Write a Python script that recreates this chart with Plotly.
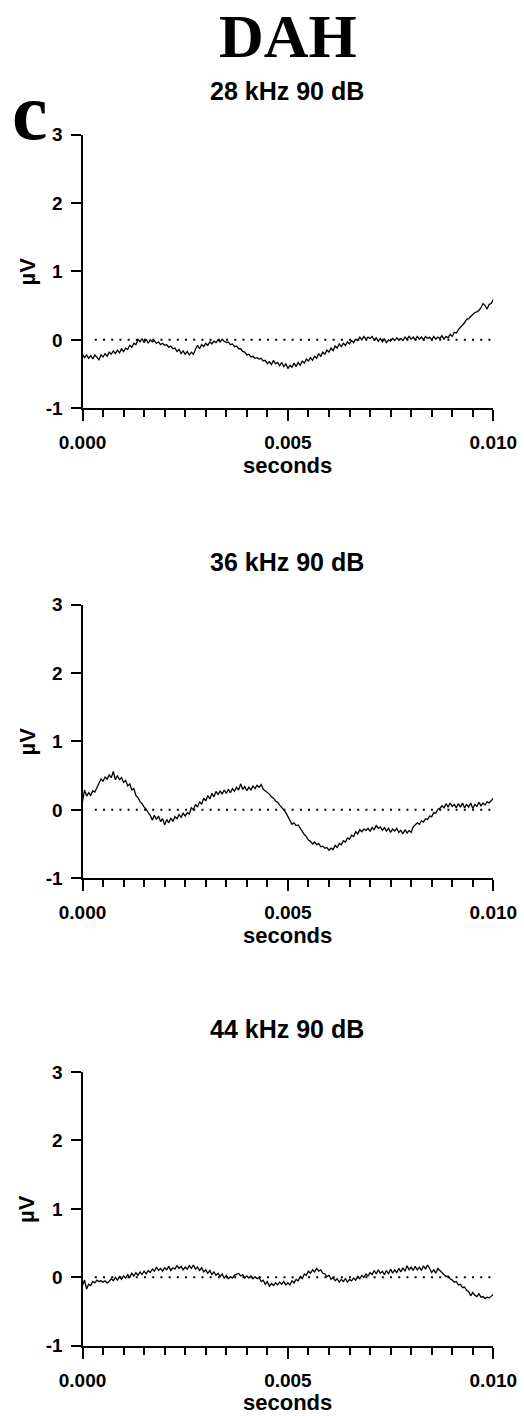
import plotly.graph_objects as go

# ---------------- data ----------------
sample_interval_s = 0.00005  # 0.05 ms between read-off samples, 0 .. 0.010 s

trace_28khz = [
    -0.21, -0.26, -0.22, -0.27, -0.23, -0.28, -0.22, -0.25, -0.29, -0.22,
    -0.25, -0.20, -0.24, -0.18, -0.21, -0.16, -0.20, -0.15, -0.19, -0.13,
    -0.17, -0.12, -0.14, -0.08, -0.11, -0.05, -0.07, 0.01, -0.03, 0.02,
    -0.04, 0.01, -0.05, 0.00, -0.03, -0.01, -0.05, -0.03, -0.07, -0.05,
    -0.08, -0.07, -0.11, -0.09, -0.13, -0.12, -0.17, -0.14, -0.20, -0.16,
    -0.21, -0.17, -0.22, -0.18, -0.21, -0.14, -0.08, -0.13, -0.07, -0.10,
    -0.05, -0.08, -0.03, -0.06, -0.02, -0.04, 0.00, -0.03, 0.01, -0.02,
    -0.04, -0.03, -0.07, -0.06, -0.10, -0.09, -0.13, -0.13, -0.17, -0.18,
    -0.22, -0.21, -0.25, -0.24, -0.27, -0.26, -0.28, -0.27, -0.31, -0.30,
    -0.35, -0.32, -0.36, -0.30, -0.35, -0.33, -0.38, -0.33, -0.39, -0.35,
    -0.42, -0.37, -0.40, -0.34, -0.39, -0.33, -0.37, -0.31, -0.34, -0.28,
    -0.31, -0.26, -0.30, -0.24, -0.27, -0.20, -0.24, -0.18, -0.21, -0.15,
    -0.18, -0.12, -0.16, -0.09, -0.12, -0.06, -0.10, -0.05, -0.08, -0.03,
    -0.06, -0.01, -0.04, 0.01, -0.01, 0.04, 0.00, 0.05, 0.01, 0.04,
    0.02, 0.05, 0.00, 0.03, -0.02, 0.02, -0.03, 0.01, -0.04, 0.00,
    -0.02, 0.02, -0.01, 0.03, 0.00, 0.02, -0.01, 0.04, 0.01, 0.05,
    0.01, 0.04, 0.00, 0.05, 0.01, 0.04, 0.00, 0.05, 0.02, 0.04,
    0.00, 0.05, 0.01, 0.04, 0.02, 0.06, 0.01, 0.05, 0.03, 0.08,
    0.05, 0.11, 0.10, 0.15, 0.18, 0.22, 0.25, 0.30, 0.31, 0.34,
    0.37, 0.40, 0.41, 0.43, 0.47, 0.53, 0.50, 0.45, 0.52, 0.53,
    0.59,
]

trace_36khz = [
    0.12, 0.29, 0.20, 0.25, 0.21, 0.28, 0.26, 0.33, 0.38, 0.45,
    0.42, 0.48, 0.45, 0.51, 0.47, 0.56, 0.44, 0.50, 0.44, 0.47,
    0.40, 0.43, 0.35, 0.38, 0.29, 0.31, 0.21, 0.18, 0.12, 0.09,
    0.04, 0.01, -0.04, -0.08, -0.15, -0.08, -0.14, -0.09, -0.17, -0.13,
    -0.22, -0.14, -0.19, -0.12, -0.17, -0.10, -0.13, -0.07, -0.11, -0.05,
    -0.09, -0.04, -0.06, 0.03, 0.00, 0.08, 0.04, 0.12, 0.08, 0.17,
    0.13, 0.21, 0.16, 0.24, 0.19, 0.27, 0.22, 0.28, 0.23, 0.29,
    0.24, 0.30, 0.25, 0.31, 0.27, 0.33, 0.29, 0.38, 0.30, 0.34,
    0.28, 0.33, 0.29, 0.35, 0.31, 0.36, 0.33, 0.37, 0.30, 0.28,
    0.25, 0.23, 0.19, 0.17, 0.13, 0.11, 0.07, 0.04, 0.00, -0.04,
    -0.10, -0.17, -0.21, -0.19, -0.23, -0.22, -0.27, -0.31, -0.36, -0.39,
    -0.44, -0.46, -0.50, -0.47, -0.51, -0.49, -0.54, -0.53, -0.56, -0.55,
    -0.59, -0.56, -0.58, -0.52, -0.55, -0.49, -0.51, -0.45, -0.47, -0.41,
    -0.43, -0.37, -0.39, -0.32, -0.35, -0.29, -0.32, -0.28, -0.30, -0.27,
    -0.31, -0.26, -0.29, -0.23, -0.27, -0.25, -0.30, -0.26, -0.31, -0.27,
    -0.33, -0.28, -0.31, -0.27, -0.33, -0.30, -0.35, -0.29, -0.34, -0.30,
    -0.33, -0.25, -0.22, -0.19, -0.21, -0.16, -0.18, -0.13, -0.14, -0.09,
    -0.10, -0.04, -0.05, 0.01, 0.02, 0.06, 0.03, 0.09, 0.04, 0.10,
    0.05, 0.08, 0.03, 0.09, 0.04, 0.10, 0.03, 0.08, 0.04, 0.10,
    0.02, 0.08, 0.05, 0.11, 0.06, 0.10, 0.07, 0.12, 0.10, 0.14,
    0.17,
]

trace_44khz = [
    -0.12, -0.04, -0.17, -0.10, -0.12, -0.06, -0.08, -0.04, -0.06, -0.05,
    -0.07, -0.05, -0.08, -0.06, -0.02, -0.05, 0.00, -0.04, 0.01, -0.03,
    0.02, -0.01, 0.04, 0.00, 0.06, 0.02, 0.07, 0.03, 0.08, 0.04,
    0.09, 0.05, 0.10, 0.07, 0.12, 0.09, 0.15, 0.10, 0.13, 0.09,
    0.14, 0.11, 0.16, 0.10, 0.14, 0.12, 0.17, 0.13, 0.16, 0.11,
    0.15, 0.12, 0.17, 0.13, 0.18, 0.12, 0.15, 0.10, 0.14, 0.08,
    0.11, 0.06, 0.10, 0.04, 0.08, 0.03, 0.06, 0.01, 0.05, -0.01,
    0.03, -0.02, 0.01, -0.01, 0.03, 0.05, 0.06, 0.02, 0.04, -0.01,
    0.02, -0.01, 0.02, -0.02, 0.01, -0.02, 0.00, -0.06, -0.04, -0.10,
    -0.06, -0.13, -0.09, -0.12, -0.08, -0.11, -0.07, -0.10, -0.06, -0.11,
    -0.08, -0.11, -0.05, -0.08, -0.03, -0.05, 0.01, -0.02, 0.05, 0.03,
    0.09, 0.06, 0.11, 0.08, 0.13, 0.09, 0.11, 0.06, 0.05, 0.01,
    0.03, -0.03, 0.00, -0.05, -0.02, -0.07, -0.03, -0.06, -0.02, -0.07,
    -0.03, -0.05, -0.01, -0.04, 0.01, -0.02, 0.03, 0.00, 0.05, 0.02,
    0.07, 0.04, 0.10, 0.05, 0.11, 0.06, 0.09, 0.04, 0.10, 0.05,
    0.12, 0.06, 0.11, 0.07, 0.13, 0.08, 0.14, 0.09, 0.17, 0.11,
    0.15, 0.10, 0.16, 0.11, 0.15, 0.10, 0.17, 0.12, 0.18, 0.13,
    0.07, 0.11, 0.06, 0.13, 0.10, 0.07, 0.04, 0.01, 0.02, -0.02,
    -0.04, -0.07, -0.06, -0.11, -0.10, -0.15, -0.14, -0.19, -0.21, -0.27,
    -0.22, -0.26, -0.28, -0.24, -0.29, -0.28, -0.31, -0.29, -0.30, -0.27,
    -0.25,
]

panel_titles = ["28 kHz 90 dB", "36 kHz 90 dB", "44 kHz 90 dB"]
panel_traces = [trace_28khz, trace_36khz, trace_44khz]

x_range = [0.0, 0.010]
x_tick_values = [0.000, 0.005, 0.010]
x_tick_labels = ["0.000", "0.005", "0.010"]
x_minor_step = 0.0005
y_range = [-1, 3]
y_tick_values = [-1, 0, 1, 2, 3]
y_tick_labels = ["-1", "0", "1", "2", "3"]
reference_level = 0.0

figure_title = "DAH"
panel_letter = "c"
x_title = "seconds"
y_title = "µV"

# ---------------- layout geometry (pixels) ----------------
W, H = 524, 1416
SANS = "Liberation Sans"
SERIF = "Liberation Serif"
plot_left, plot_right = 82.5, 493.3
panel_tops = [134.5, 604.5, 1072.0]   # y pixel of value 3
panel_height = 273.8                   # 3 -> -1


def py(p):
    return 1 - p / H


def px(p):
    return p / W


times = [i * sample_interval_s for i in range(len(trace_28khz))]

fig = go.Figure()
layout_axes = {}
annotations = []

for i, (title, vals) in enumerate(zip(panel_titles, panel_traces)):
    n = "" if i == 0 else str(i + 1)
    xref, yref = "x" + n, "y" + n
    top = panel_tops[i]
    bottom = top + panel_height

    # dotted reference line at 0
    fig.add_trace(go.Scatter(
        x=[x_range[0] + 0.0003, x_range[1]], y=[reference_level, reference_level],
        mode="lines", line=dict(color="black", width=2, dash="2px,6.2px"),
        xaxis=xref, yaxis=yref, showlegend=False, hoverinfo="skip"))
    # waveform
    fig.add_trace(go.Scatter(
        x=times, y=vals, mode="lines",
        line=dict(color="black", width=1.3),
        xaxis=xref, yaxis=yref, showlegend=False))

    tickfont = dict(family=SANS, size=19, color="black", weight="bold")
    layout_axes["xaxis" + n] = dict(
        domain=[px(plot_left), px(plot_right)], range=x_range, anchor=yref,
        showline=True, linecolor="black", linewidth=2,
        ticks="outside", ticklen=11, tickwidth=2, tickcolor="black",
        tickmode="array", tickvals=x_tick_values, ticktext=x_tick_labels,
        tickfont=tickfont, ticklabelstandoff=5,
        minor=dict(tickmode="linear", tick0=0, dtick=x_minor_step, ticks="outside",
                   ticklen=7, tickwidth=2, tickcolor="black", showgrid=False),
        showgrid=False, zeroline=False, automargin=False, fixedrange=True)
    layout_axes["yaxis" + n] = dict(
        domain=[py(bottom), py(top)], range=y_range, anchor=xref,
        showline=True, linecolor="black", linewidth=2,
        ticks="outside", ticklen=10, tickwidth=2, tickcolor="black",
        tickmode="array", tickvals=y_tick_values, ticktext=y_tick_labels,
        tickfont=tickfont, ticklabelstandoff=4,
        showgrid=False, zeroline=False, automargin=False, fixedrange=True)

    # panel title
    annotations.append(dict(
        text=title, x=px(287), y=py(top - 43), xref="paper", yref="paper",
        xanchor="center", yanchor="middle", showarrow=False,
        font=dict(family=SANS, size=25, color="black", weight="bold")))
    # x title (bottom panel's title sits right at the page edge)
    x_title_center = min(bottom + 57.5, H - 13.5)
    annotations.append(dict(
        text=x_title, x=px(287.5), y=py(x_title_center), xref="paper", yref="paper",
        xanchor="center", yanchor="middle", showarrow=False,
        font=dict(family=SANS, size=22, color="black", weight="bold")))
    # y title
    annotations.append(dict(
        text=y_title, x=px(27), y=py(top + panel_height / 2), xref="paper", yref="paper",
        xanchor="center", yanchor="middle", showarrow=False, textangle=-90,
        font=dict(family=SANS, size=22, color="black", weight="bold")))

annotations.append(dict(
    text=figure_title, x=px(287.5), y=1.0, xref="paper", yref="paper",
    xanchor="center", yanchor="top", showarrow=False,
    font=dict(family=SERIF, size=62, color="black", weight="bold")))
annotations.append(dict(
    text=panel_letter, x=px(30), y=py(112), xref="paper", yref="paper",
    xanchor="center", yanchor="middle", showarrow=False,
    font=dict(family=SERIF, size=80, color="black", weight="bold")))

fig.update_layout(
    width=W, height=H, margin=dict(l=0, r=0, t=0, b=0),
    paper_bgcolor="white", plot_bgcolor="white",
    template="none", showlegend=False,
    annotations=annotations, **layout_axes)

fig.write_html("out.html", config={"displayModeBar": False})
